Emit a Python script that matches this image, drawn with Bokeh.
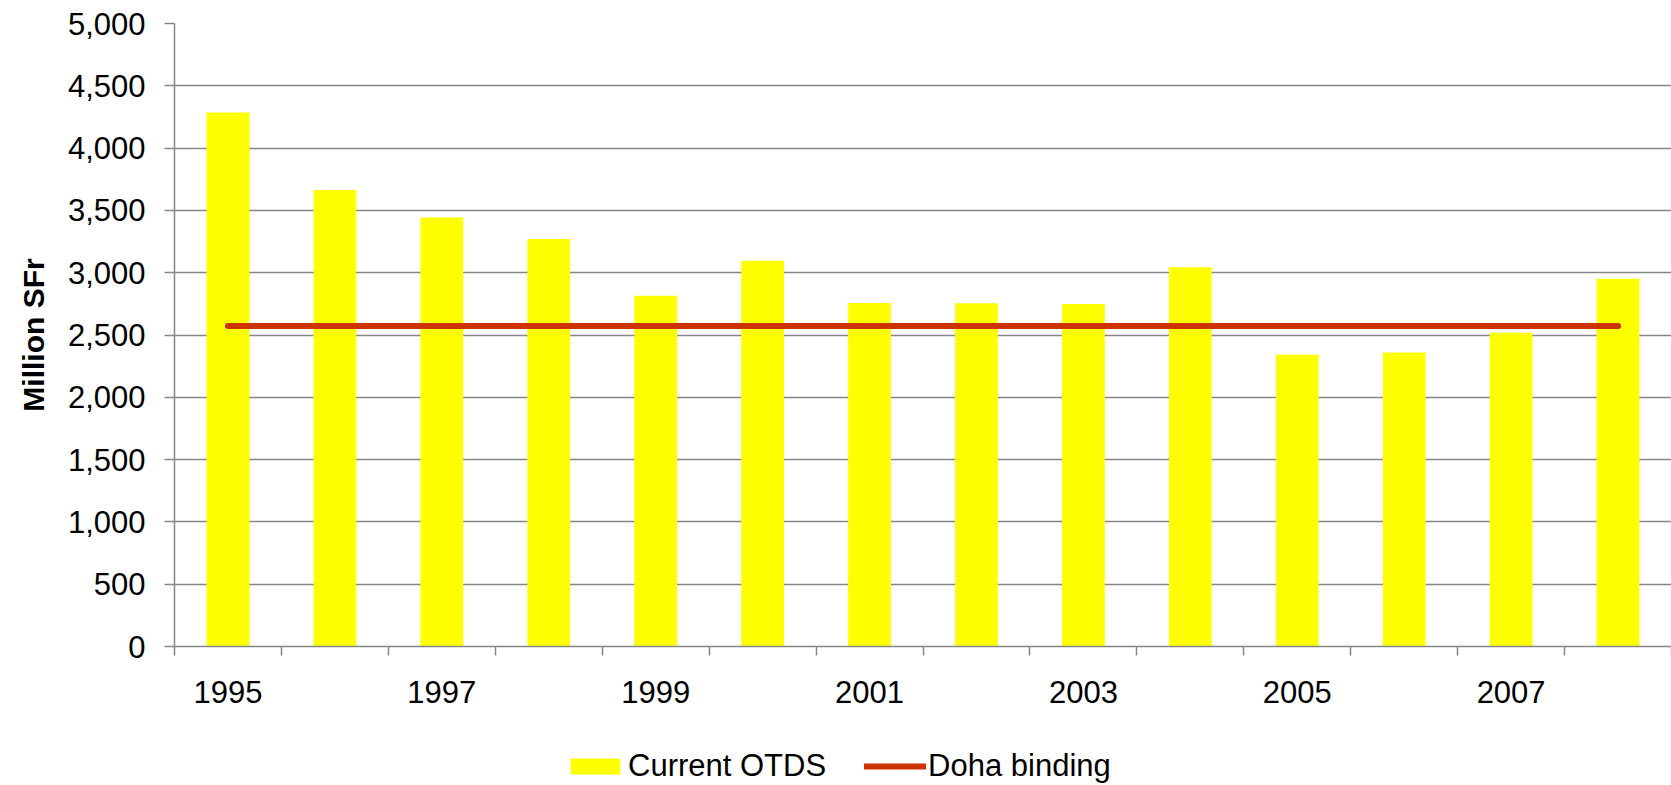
from bokeh.plotting import figure
from bokeh.layouts import column
from bokeh.models import (Range1d, FixedTicker, NumeralTickFormatter, Legend,
                          LegendItem, Title, ColumnDataSource)
from bokeh.embed import file_html
from bokeh.resources import INLINE

# ---- data ----
years = [1995, 1996, 1997, 1998, 1999, 2000, 2001, 2002, 2003, 2004, 2005, 2006, 2007, 2008]
current_otds = [4286, 3663, 3444, 3271, 2815, 3096, 2757, 2754, 2749, 3043, 2341, 2360, 2518, 2951]
doha_binding = [2572, 2572, 2572, 2572, 2572, 2572, 2572, 2572, 2572, 2572, 2572, 2572, 2572, 2572]
y_ticks = [0, 500, 1000, 1500, 2000, 2500, 3000, 3500, 4000, 4500, 5000]
x_label_years = [1995, 1997, 1999, 2001, 2003, 2005, 2007]
y_title = "Million SFr"
series_names = ["Current OTDS", "Doha binding"]

FONT = "Liberation Sans"
GRID = "#868686"
BAR_COLOR = "#FFFF00"
LINE_COLOR = "#CC3300"

src = ColumnDataSource(dict(year=years, otds=current_otds, doha=doha_binding))

p = figure(width=1671, height=735, output_backend="svg", toolbar_location=None,
           x_range=Range1d(years[0] - 0.5, years[-1] + 0.5),
           y_range=Range1d(y_ticks[0], y_ticks[-1]),
           min_border_left=173, min_border_right=0, min_border_top=23,
           min_border_bottom=89)
p.outline_line_color = None
p.background_fill_color = "white"

bars = p.vbar(x="year", top="otds", width=0.4, source=src,
              fill_color=BAR_COLOR, line_color=None)
line = p.line(x="year", y="doha", source=src, line_color=LINE_COLOR,
              line_width=6, line_cap="round")

# x axis
xa = p.xaxis[0]
xa.ticker = FixedTicker(ticks=x_label_years,
                        minor_ticks=[y - 0.5 for y in years] + [years[-1] + 0.5])
xa.major_tick_line_color = None
xa.minor_tick_line_color = GRID
xa.minor_tick_line_width = 1.5
xa.minor_tick_out = 9
xa.minor_tick_in = 0
xa.axis_line_color = GRID
xa.axis_line_width = 1.5
xa.major_label_text_font = FONT
xa.major_label_text_font_size = "31px"
xa.major_label_text_color = "black"
xa.major_label_standoff = 25

# y axis
ya = p.yaxis[0]
ya.ticker = FixedTicker(ticks=y_ticks)
ya.formatter = NumeralTickFormatter(format="0,0")
ya.major_tick_line_color = GRID
ya.major_tick_line_width = 1.5
ya.major_tick_out = 10
ya.major_tick_in = 0
ya.minor_tick_line_color = None
ya.axis_line_color = GRID
ya.axis_line_width = 1.5
ya.major_label_text_font = FONT
ya.major_label_text_font_size = "31px"
ya.major_label_text_color = "black"
ya.major_label_standoff = 19

p.xgrid.grid_line_color = None
p.ygrid.grid_line_color = GRID
p.ygrid.grid_line_width = 1.5

p.add_layout(Title(text=y_title, align="center", offset=-4, standoff=29,
                   text_font=FONT, text_font_size="30px", text_font_style="bold",
                   text_color="black"), "left")

# ---- legend strip (renderers share the data but lie outside its view) ----
lg = figure(width=1671, height=50, output_backend="svg", toolbar_location=None,
            x_axis_type=None, y_axis_type=None, min_border=0,
            x_range=Range1d(0, 1), y_range=Range1d(0, 1))
lg.outline_line_color = None
lg.xgrid.grid_line_color = None
lg.ygrid.grid_line_color = None
lbar = lg.vbar(x="year", top="otds", width=0.4, source=src,
               fill_color=BAR_COLOR, line_color=None)
lline = lg.line(x="year", y="doha", source=src, line_color=LINE_COLOR,
                line_width=6, line_cap="round")

legend = Legend(items=[LegendItem(label=series_names[0], renderers=[lbar]),
                       LegendItem(label=series_names[1], renderers=[lline])],
                orientation="horizontal", location=(390, 1),
                border_line_color=None, background_fill_alpha=0,
                glyph_width=62, glyph_height=20, label_standoff=2, spacing=38,
                padding=0, margin=0,
                label_text_font=FONT, label_text_font_size="31px",
                label_text_color="black")
lg.add_layout(legend, "center")

layout = column(p, lg, spacing=0)
open("out.html", "w").write(file_html(layout, INLINE))
